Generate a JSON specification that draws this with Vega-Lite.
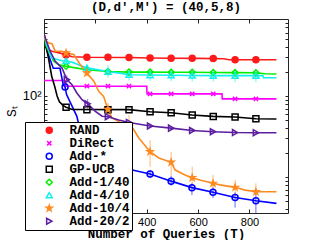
{
  "$schema": "https://vega.github.io/schema/vega-lite/v6.json",
  "width": 244,
  "height": 194,
  "autosize": "none",
  "padding": {"left": 44, "top": 19, "right": 31, "bottom": 27},
  "title": {"text": "(D,d′,M′) = (40,5,8)", "font": "Liberation Mono", "fontSize": 12.5, "fontWeight": "bold", "offset": 5, "anchor": "middle", "color": "black"},
  "config": {
    "font": "Liberation Sans",
    "view": {"stroke": "#222", "strokeWidth": 1}
  },
  "datasets": {
    "lines": [
      {"s":"RAND","t":0,"v":583},{"s":"RAND","t":6,"v":430},{"s":"RAND","t":20,"v":370},{"s":"RAND","t":31,"v":356},{"s":"RAND","t":60,"v":340},{"s":"RAND","t":86,"v":321},{"s":"RAND","t":110,"v":305},{"s":"RAND","t":167,"v":300},{"s":"RAND","t":331,"v":298},{"s":"RAND","t":413,"v":294},{"s":"RAND","t":495,"v":292},{"s":"RAND","t":600,"v":291},{"s":"RAND","t":700,"v":288},{"s":"RAND","t":720,"v":280},{"s":"RAND","t":905,"v":280},
      {"s":"DiRect","t":0,"v":155},{"s":"DiRect","t":83,"v":155},{"s":"DiRect","t":84,"v":132},{"s":"DiRect","t":400,"v":132},{"s":"DiRect","t":401,"v":106},{"s":"DiRect","t":693,"v":106},{"s":"DiRect","t":694,"v":92},{"s":"DiRect","t":905,"v":92},
      {"s":"Add-*","t":0,"v":583},{"s":"Add-*","t":8,"v":400},{"s":"Add-*","t":17,"v":321},{"s":"Add-*","t":27,"v":265},{"s":"Add-*","t":36,"v":220},{"s":"Add-*","t":62,"v":220},{"s":"Add-*","t":75,"v":137},{"s":"Add-*","t":82,"v":129},{"s":"Add-*","t":88,"v":104},{"s":"Add-*","t":105,"v":80},{"s":"Add-*","t":128,"v":56},{"s":"Add-*","t":135,"v":45},{"s":"Add-*","t":161,"v":33},{"s":"Add-*","t":200,"v":21.5},{"s":"Add-*","t":250,"v":16.2},{"s":"Add-*","t":290,"v":14},{"s":"Add-*","t":331,"v":12.5},{"s":"Add-*","t":413,"v":10.9},{"s":"Add-*","t":495,"v":8.9},{"s":"Add-*","t":576,"v":7.4},{"s":"Add-*","t":658,"v":6.5},{"s":"Add-*","t":744,"v":5.6},{"s":"Add-*","t":825,"v":5.1},{"s":"Add-*","t":905,"v":4.73},
      {"s":"GP-UCB","t":0,"v":583},{"s":"GP-UCB","t":5,"v":450},{"s":"GP-UCB","t":17,"v":300},{"s":"GP-UCB","t":30,"v":175},{"s":"GP-UCB","t":42,"v":130},{"s":"GP-UCB","t":51,"v":100},{"s":"GP-UCB","t":60,"v":85},{"s":"GP-UCB","t":75,"v":76},{"s":"GP-UCB","t":86,"v":72.5},{"s":"GP-UCB","t":110,"v":68},{"s":"GP-UCB","t":331,"v":67.8},{"s":"GP-UCB","t":413,"v":64},{"s":"GP-UCB","t":495,"v":62},{"s":"GP-UCB","t":576,"v":58.3},{"s":"GP-UCB","t":658,"v":56},{"s":"GP-UCB","t":744,"v":55},{"s":"GP-UCB","t":825,"v":52.4},{"s":"GP-UCB","t":905,"v":52},
      {"s":"Add-1/40","t":0,"v":583},{"s":"Add-1/40","t":8,"v":420},{"s":"Add-1/40","t":24,"v":324},{"s":"Add-1/40","t":38,"v":268},{"s":"Add-1/40","t":57,"v":243},{"s":"Add-1/40","t":86,"v":233},{"s":"Add-1/40","t":122,"v":222},{"s":"Add-1/40","t":167,"v":211},{"s":"Add-1/40","t":249,"v":200},{"s":"Add-1/40","t":331,"v":197},{"s":"Add-1/40","t":413,"v":197},{"s":"Add-1/40","t":495,"v":196},{"s":"Add-1/40","t":577,"v":196},{"s":"Add-1/40","t":659,"v":195},{"s":"Add-1/40","t":744,"v":194},{"s":"Add-1/40","t":825,"v":193},{"s":"Add-1/40","t":860,"v":188},{"s":"Add-1/40","t":905,"v":187},
      {"s":"Add-4/10","t":0,"v":583},{"s":"Add-4/10","t":10,"v":430},{"s":"Add-4/10","t":31,"v":294},{"s":"Add-4/10","t":70,"v":272},{"s":"Add-4/10","t":86,"v":270},{"s":"Add-4/10","t":110,"v":260},{"s":"Add-4/10","t":122,"v":252},{"s":"Add-4/10","t":167,"v":222},{"s":"Add-4/10","t":249,"v":200},{"s":"Add-4/10","t":300,"v":190},{"s":"Add-4/10","t":331,"v":183},{"s":"Add-4/10","t":413,"v":181},{"s":"Add-4/10","t":495,"v":180},{"s":"Add-4/10","t":577,"v":179},{"s":"Add-4/10","t":659,"v":178},{"s":"Add-4/10","t":744,"v":178},{"s":"Add-4/10","t":852,"v":178},{"s":"Add-4/10","t":855,"v":168},{"s":"Add-4/10","t":905,"v":168},
      {"s":"Add-10/4","t":0,"v":583},{"s":"Add-10/4","t":7,"v":480},{"s":"Add-10/4","t":18,"v":451},{"s":"Add-10/4","t":31,"v":440},{"s":"Add-10/4","t":44,"v":356},{"s":"Add-10/4","t":70,"v":356},{"s":"Add-10/4","t":86,"v":340},{"s":"Add-10/4","t":116,"v":324},{"s":"Add-10/4","t":141,"v":244},{"s":"Add-10/4","t":167,"v":192},{"s":"Add-10/4","t":194,"v":152},{"s":"Add-10/4","t":213,"v":114},{"s":"Add-10/4","t":232,"v":99},{"s":"Add-10/4","t":249,"v":68},{"s":"Add-10/4","t":265,"v":53.5},{"s":"Add-10/4","t":291,"v":48.2},{"s":"Add-10/4","t":331,"v":42},{"s":"Add-10/4","t":346,"v":40},{"s":"Add-10/4","t":369,"v":30.3},{"s":"Add-10/4","t":413,"v":20.5},{"s":"Add-10/4","t":447,"v":17.2},{"s":"Add-10/4","t":495,"v":15.2},{"s":"Add-10/4","t":511,"v":12.2},{"s":"Add-10/4","t":549,"v":10.6},{"s":"Add-10/4","t":577,"v":9.8},{"s":"Add-10/4","t":607,"v":9.2},{"s":"Add-10/4","t":658,"v":8.36},{"s":"Add-10/4","t":685,"v":8.0},{"s":"Add-10/4","t":744,"v":7.46},{"s":"Add-10/4","t":783,"v":6.9},{"s":"Add-10/4","t":825,"v":6.58},{"s":"Add-10/4","t":905,"v":6.58},
      {"s":"Add-20/2","t":0,"v":583},{"s":"Add-20/2","t":12,"v":451},{"s":"Add-20/2","t":24,"v":356},{"s":"Add-20/2","t":44,"v":268},{"s":"Add-20/2","t":70,"v":222},{"s":"Add-20/2","t":89,"v":159},{"s":"Add-20/2","t":109,"v":138},{"s":"Add-20/2","t":128,"v":109},{"s":"Add-20/2","t":148,"v":90},{"s":"Add-20/2","t":170,"v":80},{"s":"Add-20/2","t":200,"v":64.7},{"s":"Add-20/2","t":226,"v":56.2},{"s":"Add-20/2","t":249,"v":55.5},{"s":"Add-20/2","t":291,"v":50.5},{"s":"Add-20/2","t":331,"v":47.1},{"s":"Add-20/2","t":413,"v":42.6},{"s":"Add-20/2","t":495,"v":40.1},{"s":"Add-20/2","t":577,"v":37.5},{"s":"Add-20/2","t":658,"v":36.2},{"s":"Add-20/2","t":744,"v":35.4},{"s":"Add-20/2","t":825,"v":35.2},{"s":"Add-20/2","t":905,"v":35.2}
    ],
    "marks": [
      {"s":"RAND","t":86,"v":321},{"s":"RAND","t":167,"v":300},{"s":"RAND","t":249,"v":300},{"s":"RAND","t":331,"v":298},{"s":"RAND","t":413,"v":294},{"s":"RAND","t":495,"v":292},{"s":"RAND","t":577,"v":291},{"s":"RAND","t":659,"v":289},{"s":"RAND","t":744,"v":280},{"s":"RAND","t":825,"v":280},
      {"s":"DiRect","t":167,"v":132},{"s":"DiRect","t":249,"v":132},{"s":"DiRect","t":331,"v":132},{"s":"DiRect","t":413,"v":106},{"s":"DiRect","t":495,"v":106},{"s":"DiRect","t":577,"v":106},{"s":"DiRect","t":659,"v":106},{"s":"DiRect","t":744,"v":92},{"s":"DiRect","t":825,"v":92},
      {"s":"Add-*","t":82,"v":129},{"s":"Add-*","t":167,"v":30},{"s":"Add-*","t":249,"v":16.3},{"s":"Add-*","t":331,"v":12.5,"lo":11.2,"hi":14},{"s":"Add-*","t":413,"v":10.9,"lo":9.7,"hi":12.2},{"s":"Add-*","t":495,"v":8.9,"lo":7.8,"hi":10.4},{"s":"Add-*","t":576,"v":7.4,"lo":6.0,"hi":8.4},{"s":"Add-*","t":658,"v":6.5,"lo":5.5,"hi":7.5},{"s":"Add-*","t":744,"v":5.6,"lo":4.2,"hi":6.5},{"s":"Add-*","t":825,"v":5.1,"lo":3.6,"hi":6.5},
      {"s":"GP-UCB","t":86,"v":72.5},{"s":"GP-UCB","t":167,"v":67.8},{"s":"GP-UCB","t":249,"v":67.8},{"s":"GP-UCB","t":331,"v":67.8},{"s":"GP-UCB","t":413,"v":64},{"s":"GP-UCB","t":495,"v":62},{"s":"GP-UCB","t":577,"v":58.3},{"s":"GP-UCB","t":659,"v":56},{"s":"GP-UCB","t":744,"v":55},{"s":"GP-UCB","t":825,"v":52.4},
      {"s":"Add-1/40","t":86,"v":233},{"s":"Add-1/40","t":167,"v":211},{"s":"Add-1/40","t":249,"v":200},{"s":"Add-1/40","t":331,"v":197},{"s":"Add-1/40","t":413,"v":197},{"s":"Add-1/40","t":495,"v":196},{"s":"Add-1/40","t":577,"v":196},{"s":"Add-1/40","t":659,"v":195},{"s":"Add-1/40","t":744,"v":194},{"s":"Add-1/40","t":825,"v":193},
      {"s":"Add-4/10","t":86,"v":270},{"s":"Add-4/10","t":167,"v":222,"lo":200,"hi":245},{"s":"Add-4/10","t":249,"v":200,"lo":168,"hi":238},{"s":"Add-4/10","t":331,"v":183,"lo":155,"hi":216},{"s":"Add-4/10","t":413,"v":181,"lo":153,"hi":214},{"s":"Add-4/10","t":495,"v":180,"lo":152,"hi":213},{"s":"Add-4/10","t":577,"v":179,"lo":151,"hi":212},{"s":"Add-4/10","t":659,"v":178,"lo":150,"hi":211},{"s":"Add-4/10","t":744,"v":178,"lo":148,"hi":213},{"s":"Add-4/10","t":825,"v":178,"lo":148,"hi":213},
      {"s":"Add-10/4","t":86,"v":340},{"s":"Add-10/4","t":167,"v":192,"lo":175,"hi":210},{"s":"Add-10/4","t":249,"v":68,"lo":58,"hi":82},{"s":"Add-10/4","t":331,"v":42,"lo":27.3,"hi":58},{"s":"Add-10/4","t":413,"v":20.5,"lo":13.4,"hi":28.6},{"s":"Add-10/4","t":495,"v":15.2,"lo":10.6,"hi":20.5},{"s":"Add-10/4","t":577,"v":9.8,"lo":7.6,"hi":13.4},{"s":"Add-10/4","t":658,"v":8.36,"lo":6.9,"hi":10.6},{"s":"Add-10/4","t":744,"v":7.46,"lo":6.0,"hi":9.2},{"s":"Add-10/4","t":825,"v":6.58,"lo":5.45,"hi":8.36},
      {"s":"Add-20/2","t":89,"v":159,"lo":140,"hi":180},{"s":"Add-20/2","t":170,"v":80,"lo":70,"hi":92},{"s":"Add-20/2","t":249,"v":55.5},{"s":"Add-20/2","t":331,"v":47.1},{"s":"Add-20/2","t":413,"v":42.6},{"s":"Add-20/2","t":495,"v":40.1},{"s":"Add-20/2","t":577,"v":37.5},{"s":"Add-20/2","t":658,"v":36.2},{"s":"Add-20/2","t":744,"v":35.4},{"s":"Add-20/2","t":825,"v":35.2}
    ]
  },
  "resolve": {"axis": {"x": "independent", "y": "independent"}},
  "layer": [
    {
      "data": {"name": "lines"},
      "mark": {"type": "line", "strokeWidth": 1.6, "clip": true},
      "encoding": {
        "x": {"field": "t", "type": "quantitative", "scale": {"domain": [0, 950], "nice": false, "zero": false},
          "axis": {"orient": "bottom", "values": [0, 200, 400, 600, 800], "labelExpr": "datum.value >= 400 ? datum.label : ''", "labelFont": "Liberation Sans", "labelFontSize": 11, "labelColor": "black", "tickSize": -4, "tickColor": "#222", "labelPadding": 7, "domain": false, "grid": false, "title": "Number of Queries (T)", "titleFont": "Liberation Mono", "titleFontSize": 12.5, "titleFontWeight": "bold", "titleColor": "black", "titlePadding": 0}},
        "y": {"field": "v", "type": "quantitative", "scale": {"type": "log", "domain": [3.6, 890], "nice": false},
          "axis": {"orient": "left", "values": [4,5,6,7,8,9,10,20,30,40,50,60,70,80,90,100,200,300,400,500,600,700,800], "labelExpr": "datum.value == 100 ? '10²' : ''", "labelFont": "Liberation Sans", "labelFontSize": 13, "labelColor": "black", "tickSize": -3, "tickColor": "#222", "labelPadding": 6, "domain": false, "grid": false, "title": "Sₜ", "titleFont": "Liberation Mono", "titleFontSize": 13, "titleFontWeight": "normal", "titleColor": "black", "titleX": -29, "titleY": 92, "titleAngle": -90, "titleAlign": "center", "titleBaseline": "alphabetic"}},
        "color": {"field": "s", "type": "nominal", "legend": null,
          "scale": {"range": ["#0000ff","#00ee00","#ff8a1f","#5c1ea0","#11eeee","#ff00ff","#000000","#ff1a1a"]}}
      }
    },
    {
      "data": {"name": "marks"},
      "transform": [{"filter": "isValid(datum.lo)"}],
      "mark": {"type": "rule", "strokeWidth": 1, "opacity": 0.6, "clip": true},
      "encoding": {
        "x": {"field": "t", "type": "quantitative",
          "axis": {"orient": "top", "values": [0, 200, 400, 600, 800], "labels": false, "tickSize": -4, "tickColor": "#222", "domain": false, "grid": false, "title": null}},
        "y": {"field": "lo", "type": "quantitative",
          "axis": {"orient": "right", "values": [4,5,6,7,8,9,10,20,30,40,50,60,70,80,90,100,200,300,400,500,600,700,800], "labels": false, "tickSize": -3, "tickColor": "#222", "domain": false, "grid": false, "title": null}},
        "y2": {"field": "hi"},
        "color": {"field": "s", "type": "nominal", "legend": null}
      }
    },
    {
      "data": {"name": "marks"},
      "mark": {"type": "point", "strokeWidth": 1.5, "filled": false, "opacity": 1, "clip": true},
      "encoding": {
        "x": {"field": "t", "type": "quantitative", "axis": null},
        "y": {"field": "v", "type": "quantitative", "axis": null},
        "shape": {"field": "s", "type": "nominal",
          "scale": {"domain": ["RAND","DiRect","Add-*","GP-UCB","Add-1/40","Add-4/10","Add-10/4","Add-20/2"], "range": ["circle","M-0.7,-0.7L0.7,0.7M-0.7,0.7L0.7,-0.7","circle","square","diamond","triangle-up","M0,-1L0.2245,-0.309L0.951,-0.309L0.3633,0.118L0.5878,0.809L0,0.382L-0.5878,0.809L-0.3633,0.118L-0.951,-0.309L-0.2245,-0.309Z","triangle-right"]},
          "legend": {"orient": "none", "legendX": -19, "legendY": 103, "title": null, "strokeColor": "black", "fillColor": "white", "padding": 2, "labelFont": "Liberation Mono", "labelFontSize": 12.5, "labelFontWeight": "bold", "labelColor": "black", "symbolStrokeWidth": 1.5, "rowPadding": 0, "symbolOffset": 16, "labelOffset": 14, "cornerRadius": 0}},
        "stroke": {"field": "s", "type": "nominal",
          "scale": {"domain": ["RAND","DiRect","Add-*","GP-UCB","Add-1/40","Add-4/10","Add-10/4","Add-20/2"], "range": ["#ff1a1a","#ff00ff","#0000ff","#000000","#00ee00","#11eeee","#ff8a1f","#5c1ea0"]},
          "legend": {"orient": "none", "legendX": -19, "legendY": 103, "title": null}},
        "fill": {"field": "s", "type": "nominal",
          "scale": {"domain": ["RAND","DiRect","Add-*","GP-UCB","Add-1/40","Add-4/10","Add-10/4","Add-20/2"], "range": ["#ff1a1a","transparent","transparent","transparent","transparent","transparent","#ff8a1f","transparent"]},
          "legend": {"orient": "none", "legendX": -19, "legendY": 103, "title": null}},
        "size": {"field": "s", "type": "nominal",
          "scale": {"domain": ["RAND","DiRect","Add-*","GP-UCB","Add-1/40","Add-4/10","Add-10/4","Add-20/2"], "range": [36,36,36,32,36,36,80,36]},
          "legend": {"orient": "none", "legendX": -19, "legendY": 103, "title": null}}
      }
    }
  ]
}
